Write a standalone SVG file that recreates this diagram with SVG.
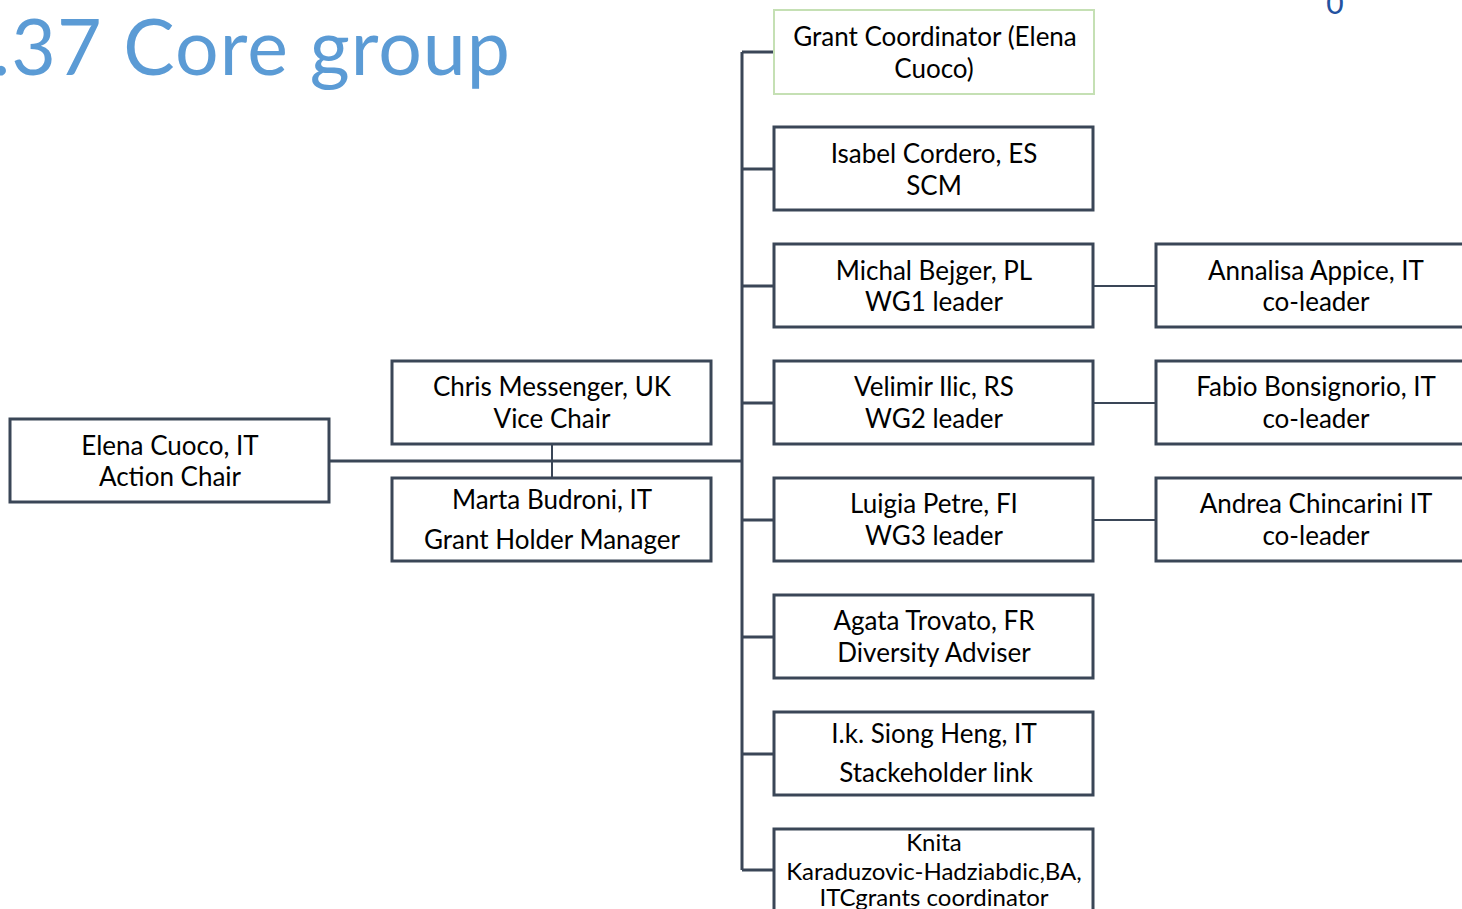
<svg xmlns="http://www.w3.org/2000/svg" width="1462" height="909" viewBox="0 0 1462 909">
<style>
.box{fill:#fff;stroke:#3a4657;stroke-width:3}
.gbox{fill:#fff;stroke:#c5e0b4;stroke-width:2}
.t{font-family:Lato,"Liberation Sans",sans-serif;font-size:26px;fill:#000;text-anchor:middle}
.s{font-size:24px}
.c{fill:none;stroke:#3a4657;stroke-width:3}
.c2{fill:none;stroke:#3a4657;stroke-width:2}
</style>
<rect width="1462" height="909" fill="#fff"/>
<text x="-8" y="75" font-family="Lato,'Liberation Sans',sans-serif" font-size="77" fill="#5b9bd5" textLength="518" lengthAdjust="spacing">.37 Core group</text>
<text x="1335" y="14" font-family="Lato,'Liberation Sans',sans-serif" font-size="30" fill="#2352a0" text-anchor="middle">0</text>
<g id="connectors">
<path class="c" d="M742 52V870M742 52H774M742 169H774M742 286H774M742 403H774M742 520H774M742 637H774M742 754H774M742 870H774M329 461H742"/>
<path class="c2" d="M552 444V478M1093 286H1156M1093 403H1156M1093 520H1156"/>
</g>
<g id="n-chair"><rect class="box" x="10" y="419" width="319" height="83"/><text class="t" x="170" y="455">Elena Cuoco, IT</text><text class="t" x="170" y="486">Action Chair</text></g>
<g id="n-vice"><rect class="box" x="392" y="361" width="319" height="83"/><text class="t" x="552" y="396">Chris Messenger, UK</text><text class="t" x="552" y="428">Vice Chair</text></g>
<g id="n-ghm"><rect class="box" x="392" y="478" width="319" height="83"/><text class="t" x="552" y="509">Marta Budroni, IT</text><text class="t" x="552" y="549">Grant Holder Manager</text></g>
<g id="n-gc"><rect class="gbox" x="774" y="10" width="320" height="84"/><text class="t" x="935" y="46">Grant Coordinator (Elena</text><text class="t" x="934" y="78">Cuoco)</text></g>
<g id="n-scm"><rect class="box" x="774" y="127" width="319" height="83"/><text class="t" x="934" y="163">Isabel Cordero, ES</text><text class="t" x="934" y="195">SCM</text></g>
<g id="n-wg1"><rect class="box" x="774" y="244" width="319" height="83"/><text class="t" x="934" y="280">Michal Bejger, PL</text><text class="t" x="934" y="311">WG1 leader</text></g>
<g id="n-wg2"><rect class="box" x="774" y="361" width="319" height="83"/><text class="t" x="934" y="396">Velimir Ilic, RS</text><text class="t" x="934" y="428">WG2 leader</text></g>
<g id="n-wg3"><rect class="box" x="774" y="478" width="319" height="83"/><text class="t" x="934" y="513">Luigia Petre, FI</text><text class="t" x="934" y="545">WG3 leader</text></g>
<g id="n-div"><rect class="box" x="774" y="595" width="319" height="83"/><text class="t" x="934" y="630">Agata Trovato, FR</text><text class="t" x="934" y="662">Diversity Adviser</text></g>
<g id="n-stake"><rect class="box" x="774" y="712" width="319" height="83"/><text class="t" x="934" y="743">I.k. Siong Heng, IT</text><text class="t" x="936" y="782">Stackeholder link</text></g>
<g id="n-itc"><rect class="box" x="774" y="829" width="319" height="100"/><text class="t s" x="934" y="851">Knita</text><text class="t s" x="934" y="880">Karaduzovic-Hadziabdic,BA,</text><text class="t s" x="934" y="906">ITCgrants coordinator</text></g>
<g id="n-co1"><rect class="box" x="1156" y="244" width="320" height="83"/><text class="t" x="1316" y="280">Annalisa Appice, IT</text><text class="t" x="1316" y="311">co-leader</text></g>
<g id="n-co2"><rect class="box" x="1156" y="361" width="320" height="83"/><text class="t" x="1316" y="396">Fabio Bonsignorio, IT</text><text class="t" x="1316" y="428">co-leader</text></g>
<g id="n-co3"><rect class="box" x="1156" y="478" width="320" height="83"/><text class="t" x="1316" y="513">Andrea Chincarini IT</text><text class="t" x="1316" y="545">co-leader</text></g>
</svg>
